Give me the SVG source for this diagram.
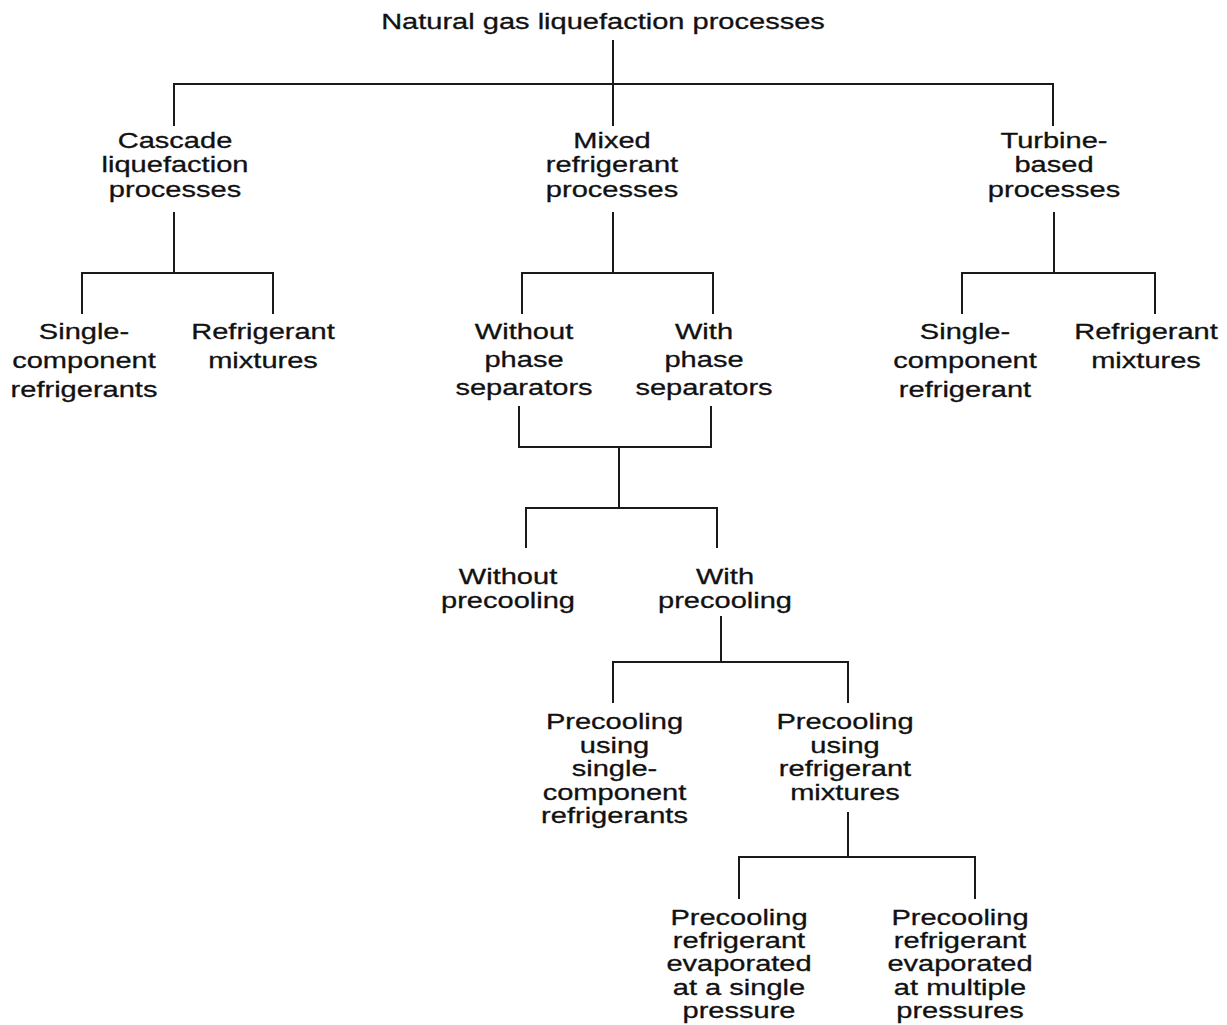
<svg xmlns="http://www.w3.org/2000/svg" width="1227" height="1025" viewBox="0 0 1227 1025">
<style>
  text { font-family: "Liberation Sans", Arial, sans-serif; font-size: 22px; fill: #111; stroke: #111; stroke-width: 0.3; text-anchor: middle; }
  .conn path { fill: none; stroke: #1a1a1a; stroke-width: 2; stroke-linecap: square; stroke-linejoin: miter; }
</style>
<rect width="1227" height="1025" fill="#ffffff"/>
<g id="connectors" class="conn">
  <path d="M613 41 V125"/>
  <path d="M174 125 V84 H1053 V125"/>
  <path d="M174 213 V273"/>
  <path d="M82 313 V273 H273 V313"/>
  <path d="M613 213 V273"/>
  <path d="M522 313 V273 H713 V313"/>
  <path d="M1054 213 V273"/>
  <path d="M962 313 V273 H1155 V313"/>
  <path d="M519 407 V447 H711 V407"/>
  <path d="M619 447 V508"/>
  <path d="M526 547 V508 H717 V547"/>
  <path d="M721 617 V662"/>
  <path d="M613 702 V662 H848 V702"/>
  <path d="M848 813 V857"/>
  <path d="M739 898 V857 H975 V898"/>
</g>
<g id="root" transform="translate(603 0) scale(1.32 1)">
  <text x="0" y="29">Natural gas liquefaction processes</text>
</g>
<g id="cascade" transform="translate(175 0) scale(1.32 1)">
  <text x="0" y="148">Cascade</text>
  <text x="0" y="172.5">liquefaction</text>
  <text x="0" y="197">processes</text>
</g>
<g id="mixed" transform="translate(612 0) scale(1.32 1)">
  <text x="0" y="148">Mixed</text>
  <text x="0" y="172.5">refrigerant</text>
  <text x="0" y="197">processes</text>
</g>
<g id="turbine" transform="translate(1054 0) scale(1.32 1)">
  <text x="0" y="148">Turbine-</text>
  <text x="0" y="172.5">based</text>
  <text x="0" y="197">processes</text>
</g>
<g id="cascade-single" transform="translate(84 0) scale(1.32 1)">
  <text x="0" y="339">Single-</text>
  <text x="0" y="368">component</text>
  <text x="0" y="397">refrigerants</text>
</g>
<g id="cascade-mixtures" transform="translate(263 0) scale(1.32 1)">
  <text x="0" y="339">Refrigerant</text>
  <text x="0" y="368">mixtures</text>
</g>
<g id="without-phase" transform="translate(524 0) scale(1.32 1)">
  <text x="0" y="339">Without</text>
  <text x="0" y="367">phase</text>
  <text x="0" y="395">separators</text>
</g>
<g id="with-phase" transform="translate(704 0) scale(1.32 1)">
  <text x="0" y="339">With</text>
  <text x="0" y="367">phase</text>
  <text x="0" y="395">separators</text>
</g>
<g id="turbine-single" transform="translate(965 0) scale(1.32 1)">
  <text x="0" y="339">Single-</text>
  <text x="0" y="368">component</text>
  <text x="0" y="397">refrigerant</text>
</g>
<g id="turbine-mixtures" transform="translate(1146 0) scale(1.32 1)">
  <text x="0" y="339">Refrigerant</text>
  <text x="0" y="368">mixtures</text>
</g>
<g id="without-precooling" transform="translate(508 0) scale(1.32 1)">
  <text x="0" y="584">Without</text>
  <text x="0" y="608.5">precooling</text>
</g>
<g id="with-precooling" transform="translate(725 0) scale(1.32 1)">
  <text x="0" y="584">With</text>
  <text x="0" y="608.5">precooling</text>
</g>
<g id="precool-single" transform="translate(614.5 0) scale(1.32 1)">
  <text x="0" y="729">Precooling</text>
  <text x="0" y="753">using</text>
  <text x="0" y="776.5">single-</text>
  <text x="0" y="800">component</text>
  <text x="0" y="823.5">refrigerants</text>
</g>
<g id="precool-mixtures" transform="translate(845 0) scale(1.32 1)">
  <text x="0" y="729">Precooling</text>
  <text x="0" y="753">using</text>
  <text x="0" y="776.5">refrigerant</text>
  <text x="0" y="800">mixtures</text>
</g>
<g id="evap-single" transform="translate(739 0) scale(1.32 1)">
  <text x="0" y="925">Precooling</text>
  <text x="0" y="948">refrigerant</text>
  <text x="0" y="971.5">evaporated</text>
  <text x="0" y="995">at a single</text>
  <text x="0" y="1018">pressure</text>
</g>
<g id="evap-multiple" transform="translate(960 0) scale(1.32 1)">
  <text x="0" y="925">Precooling</text>
  <text x="0" y="948">refrigerant</text>
  <text x="0" y="971.5">evaporated</text>
  <text x="0" y="995">at multiple</text>
  <text x="0" y="1018">pressures</text>
</g>
</svg>
